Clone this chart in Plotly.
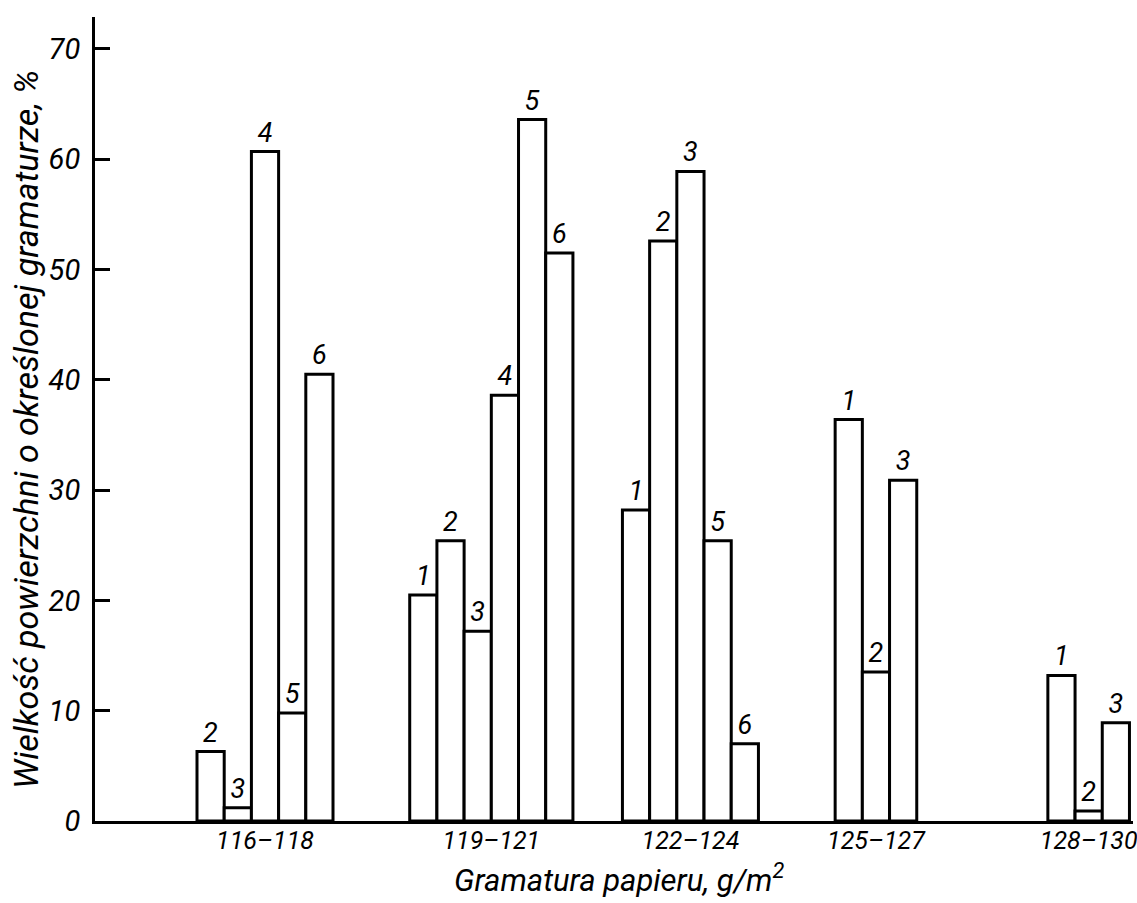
import plotly.graph_objects as go

# ---- data ----
categories = ["116–118", "119–121", "122–124", "125–127", "128–130"]
series_names = ["1", "2", "3", "4", "5", "6"]
s1 = [None, 20.5, 28.2, 36.4, 13.2]
s2 = [6.3, 25.4, 52.6, 13.5, 0.9]
s3 = [1.2, 17.2, 58.9, 30.9, 8.9]
s4 = [60.7, 38.6, None, None, None]
s5 = [9.8, 63.6, 25.4, None, None]
s6 = [40.5, 51.5, 7.0, None, None]
series_values = [s1, s2, s3, s4, s5, s6]

y_ticks = [0, 10, 20, 30, 40, 50, 60, 70]

x_title = "Gramatura papieru, g/m<sup>2</sup>"
y_title = "Wielkość powierzchni o określonej gramaturze, %"

# ---- layout parameters (in bar-width units on a numeric x axis) ----
FIRST_START = 3.75
GROUP_STEP = 7.82
X_MAX = 38.16
Y_MAX = 72.9

FONT = "Roboto, Liberation Sans, sans-serif"

xs, ys, texts = [], [], []
tickvals = []
for g, cat in enumerate(categories):
    start = FIRST_START + g * GROUP_STEP
    k = 0
    for name, vals in zip(series_names, series_values):
        v = vals[g]
        if v is None:
            continue
        xs.append(start + k + 0.5)
        ys.append(v)
        texts.append(name)
        k += 1
    tickvals.append(start + k / 2)

fig = go.Figure(
    go.Bar(
        x=xs,
        y=ys,
        width=1,
        text=texts,
        textposition="outside",
        cliponaxis=False,
        textfont=dict(family=FONT, size=27, color="black", style="italic"),
        marker=dict(color="white", line=dict(color="black", width=3)),
        hoverinfo="skip",
        showlegend=False,
    )
)

fig.update_layout(
    width=1137,
    height=903,
    margin=dict(l=95, r=4, t=17, b=82, autoexpand=False),
    paper_bgcolor="white",
    plot_bgcolor="white",
    font=dict(family=FONT, color="black", style="italic"),
    annotations=[
        dict(
            text=x_title, xref="paper", yref="paper",
            x=0.505, y=-0.071, xanchor="center", yanchor="middle",
            showarrow=False,
            font=dict(family=FONT, size=31, color="black", style="italic"),
        ),
        dict(
            text=y_title, xref="paper", yref="paper",
            x=-0.066, y=0.487, xanchor="center", yanchor="middle",
            textangle=-90, showarrow=False,
            font=dict(family=FONT, size=34, color="black", style="italic"),
        ),
    ],
)

fig.update_xaxes(
    range=[0, X_MAX],
    tickvals=tickvals,
    ticktext=categories,
    ticks="",
    ticklen=0,
    showgrid=False,
    zeroline=False,
    showline=True,
    linecolor="black",
    linewidth=3,
    automargin=False,
    ticklabeloverflow="allow",
    tickfont=dict(family=FONT, size=25, color="black", style="italic"),
    ticklabelstandoff=-5,
)

fig.update_yaxes(
    range=[0, Y_MAX],
    tickvals=y_ticks,
    ticks="inside",
    ticklen=15,
    tickwidth=3,
    tickcolor="black",
    showgrid=False,
    zeroline=False,
    showline=True,
    linecolor="black",
    linewidth=3,
    automargin=False,
    ticklabeloverflow="allow",
    tickfont=dict(family=FONT, size=29, color="black", style="italic"),
    ticklabelstandoff=6,
)

fig.write_html(
    "out.html",
    config={"displayModeBar": False},
    post_script="document.body.style.margin='0';document.body.style.overflow='hidden';",
)
